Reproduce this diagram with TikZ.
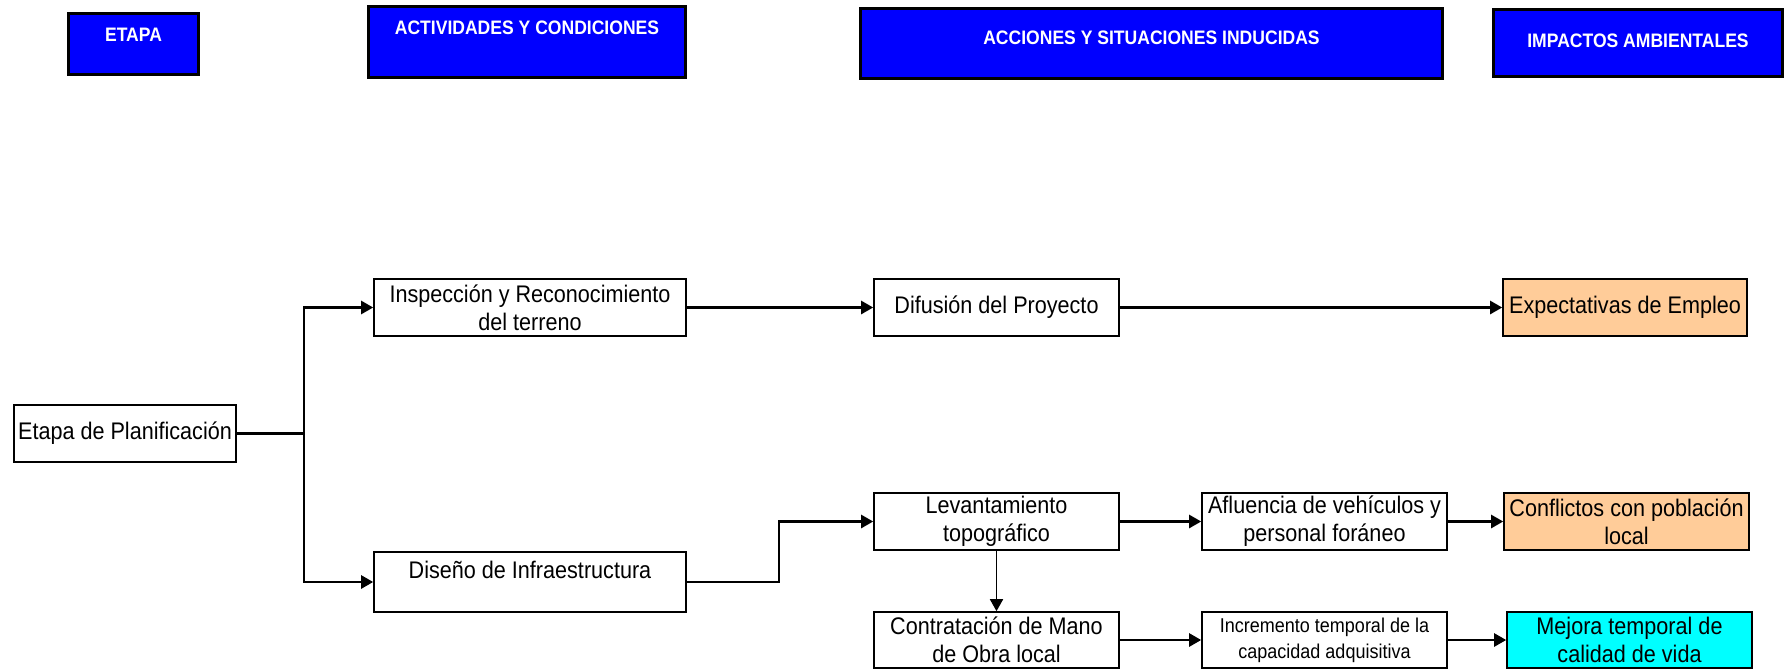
\documentclass[tikz,border=0pt]{standalone}
\usepackage{fontspec}
\setmainfont[FakeStretch=0.9]{Liberation Sans}
\usepackage{tikz}
\usetikzlibrary{arrows.meta}

\definecolor{azul}{RGB}{0,0,255}
\definecolor{naranja}{RGB}{255,204,153}
\definecolor{celeste}{RGB}{0,255,255}

\begin{document}
\begin{tikzpicture}[x=1pt,y=-1pt,
    caja/.style={draw, line width=1.6pt, inner sep=0pt, align=center,
      font=\fontsize{24}{28}\selectfont},
    cabecera/.style n args={3}{draw, line width=3pt, fill=azul, text=white,
      inner sep=0pt, minimum width=#1, text height=#2, text depth=#3,
      font=\fontsize{19.5}{22}\selectfont\bfseries},
    flecha/.style={line width=2.4pt, -{Triangle[length=12pt,width=13pt]}}]
  \useasboundingbox (0,0) rectangle (1790,669);

  %% Cabeceras de columna
  %% 3 params : ancho, altura del texto, profundidad del texto
  \node[cabecera={130}{28.5}{32.5}] (hEtapa) at (133.5,44) {ETAPA};
  \node[cabecera={317}{28.5}{42.5}] (hActiv) at (527,42) {ACTIVIDADES Y CONDICIONES};
  \node[cabecera={582}{36.5}{33.5}] (hAcc) at (1151.5,43.5) {ACCIONES Y SITUACIONES INDUCIDAS};
  \node[cabecera={289}{38.5}{28.5}] (hImp) at (1638,43) {IMPACTOS AMBIENTALES};

  %% Etapa
  \node[caja, minimum width=222, minimum height=57] (planif) at (125,433.5)
    {Etapa de Planificación};

  %% Actividades
  \node[caja, minimum width=312, minimum height=57] (inspec) at (530,307.5)
    {Inspección y Reconocimiento\\del terreno};
  \node[caja, minimum width=312, text height=26.5, text depth=33.5] (diseno) at (530,582)
    {Diseño de Infraestructura};

  %% Acciones y situaciones
  \node[caja, minimum width=245, minimum height=57] (difus) at (996.5,307.5)
    {Difusión del Proyecto};
  \node[caja, minimum width=245, minimum height=57] (levant) at (996.5,521.5)
    {Levantamiento\\topográfico};
  \node[caja, minimum width=245, minimum height=56] (contrat) at (996.5,640)
    {Contratación de Mano\\de Obra local};
  \node[caja, minimum width=245, minimum height=57] (aflu) at (1324.5,521.5)
    {Afluencia de vehículos y\\personal foráneo};
  \node[caja, minimum width=245, minimum height=56,
    font=\fontsize{20}{26}\selectfont] (increm) at (1324.5,640)
    {Incremento temporal de la\\capacidad adquisitiva};

  %% Impactos
  \node[caja, fill=naranja, minimum width=244, minimum height=57] (expect) at (1625,307.5)
    {Expectativas de Empleo};
  \node[caja, fill=naranja, minimum width=245, minimum height=57] (confl) at (1626.5,521.5)
    {Conflictos con población\\local};
  \node[caja, fill=celeste, minimum width=245, minimum height=56] (mejora) at (1629.5,640)
    {Mejora temporal de\\calidad de vida};

  %% Conexiones
  \draw[flecha] (planif.east) -- ++(67,0) |- (inspec.west);
  \draw[flecha] (planif.east) -- ++(67,0) |- (diseno.west);
  \draw[flecha] (inspec) -- (difus);
  \draw[flecha] (difus) -- (expect);
  \draw[flecha] (diseno.east) -- ++(92,0) |- (levant.west);
  \draw[flecha] (levant) -- (aflu);
  \draw[flecha] (aflu) -- (confl);
  \draw[flecha, line width=1.6pt] (levant) -- (contrat);
  \draw[flecha] (contrat) -- (increm);
  \draw[flecha] (increm) -- (mejora);
\end{tikzpicture}
\end{document}
